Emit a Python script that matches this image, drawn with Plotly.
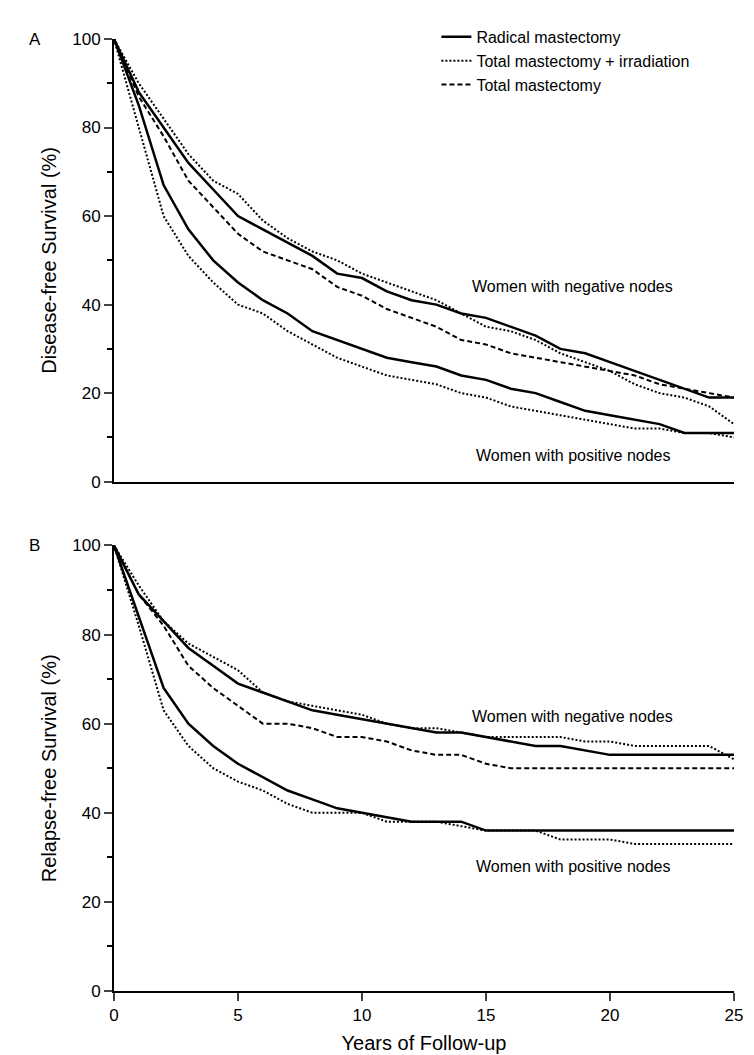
import plotly.graph_objects as go
from plotly.subplots import make_subplots

years = list(range(26))

# Panel A: disease-free survival (%)
a_neg_radical = [100, 88, 80, 72, 66, 60, 57, 54, 51, 47, 46, 43, 41, 40, 38, 37, 35, 33, 30, 29, 27, 25, 23, 21, 19, 19]
a_neg_irrad = [100, 90, 82, 74, 68, 65, 59, 55, 52, 50, 47, 45, 43, 41, 38, 35, 34, 32, 29, 27, 25, 22, 20, 19, 17, 13]
a_neg_total = [100, 87, 78, 68, 62, 56, 52, 50, 48, 44, 42, 39, 37, 35, 32, 31, 29, 28, 27, 26, 25, 24, 22, 21, 20, 19]
a_pos_radical = [100, 85, 67, 57, 50, 45, 41, 38, 34, 32, 30, 28, 27, 26, 24, 23, 21, 20, 18, 16, 15, 14, 13, 11, 11, 11]
a_pos_irrad = [100, 80, 60, 51, 45, 40, 38, 34, 31, 28, 26, 24, 23, 22, 20, 19, 17, 16, 15, 14, 13, 12, 12, 11, 11, 10]

# Panel B: relapse-free survival (%)
b_neg_radical = [100, 89, 83, 77, 73, 69, 67, 65, 63, 62, 61, 60, 59, 58, 58, 57, 56, 55, 55, 54, 53, 53, 53, 53, 53, 53]
b_neg_irrad = [100, 91, 83, 78, 75, 72, 67, 65, 64, 63, 62, 60, 59, 59, 58, 57, 57, 57, 57, 56, 56, 55, 55, 55, 55, 52]
b_neg_total = [100, 89, 82, 73, 68, 64, 60, 60, 59, 57, 57, 56, 54, 53, 53, 51, 50, 50, 50, 50, 50, 50, 50, 50, 50, 50]
b_pos_radical = [100, 84, 68, 60, 55, 51, 48, 45, 43, 41, 40, 39, 38, 38, 38, 36, 36, 36, 36, 36, 36, 36, 36, 36, 36, 36]
b_pos_irrad = [100, 82, 63, 55, 50, 47, 45, 42, 40, 40, 40, 38, 38, 38, 37, 36, 36, 36, 34, 34, 34, 33, 33, 33, 33, 33]

solid = dict(color='black', width=2.5, dash='solid')
dotted = dict(color='black', width=2, dash='2px,2px')
dashed = dict(color='black', width=2, dash='5px,3px')

FONT = 'Liberation Sans, Arial'

fig = make_subplots(rows=2, cols=1, vertical_spacing=0.067)

series = [
    (1, a_neg_radical, solid, 'Radical mastectomy', True),
    (1, a_neg_irrad, dotted, 'Total mastectomy + irradiation', True),
    (1, a_neg_total, dashed, 'Total mastectomy', True),
    (1, a_pos_radical, solid, '', False),
    (1, a_pos_irrad, dotted, '', False),
    (2, b_neg_radical, solid, '', False),
    (2, b_neg_irrad, dotted, '', False),
    (2, b_neg_total, dashed, '', False),
    (2, b_pos_radical, solid, '', False),
    (2, b_pos_irrad, dotted, '', False),
]
for row, ys, line, name, show in series:
    fig.add_trace(go.Scatter(x=years, y=ys, mode='lines', line=line, name=name,
                             showlegend=show), row=row, col=1)

axfont = dict(family=FONT, size=17, color='black')
titlefont = dict(family=FONT, size=20, color='black')
for r in (1, 2):
    fig.update_yaxes(range=[0, 100], tickvals=[0, 20, 40, 60, 80, 100], ticks='outside',
                     ticklen=8, tickwidth=2, showline=True, linecolor='black', linewidth=2,
                     showgrid=False, zeroline=False, tickfont=axfont,
                     minor=dict(tickvals=[10, 30, 50, 70, 90], ticks='outside', ticklen=5,
                                tickwidth=2, tickcolor='black'),
                     row=r, col=1)
fig.update_xaxes(range=[0, 25], showline=True, linecolor='black', linewidth=2,
                 showgrid=False, zeroline=False, showticklabels=False, ticks='', row=1, col=1)
fig.update_xaxes(range=[0, 25], tickvals=[0, 5, 10, 15, 20, 25], ticks='outside', ticklen=8,
                 tickwidth=2, showline=True, linecolor='black', linewidth=2, showgrid=False,
                 zeroline=False, tickfont=axfont, row=2, col=1,
                 title=dict(text='Years of Follow-up', font=titlefont, standoff=12))
fig.update_yaxes(title=dict(text='Disease-free Survival (%)', font=titlefont, standoff=10), row=1, col=1)
fig.update_yaxes(title=dict(text='Relapse-free Survival (%)', font=titlefont, standoff=10), row=2, col=1)

lab = dict(family=FONT, size=16, color='black')
fig.add_annotation(x=18.5, y=44, xref='x', yref='y', text='Women with negative nodes', showarrow=False, font=lab)
fig.add_annotation(x=18.5, y=6, xref='x', yref='y', text='Women with positive nodes', showarrow=False, font=lab)
fig.add_annotation(x=18.5, y=61.5, xref='x2', yref='y2', text='Women with negative nodes', showarrow=False, font=lab)
fig.add_annotation(x=18.5, y=28, xref='x2', yref='y2', text='Women with positive nodes', showarrow=False, font=lab)
fig.add_annotation(x=-0.14, y=1, xref='paper', yref='paper', text='A', showarrow=False,
                   font=dict(family=FONT, size=17), xanchor='left', yanchor='middle')
fig.add_annotation(x=-0.14, y=0.468, xref='paper', yref='paper', text='B', showarrow=False,
                   font=dict(family=FONT, size=17), xanchor='left', yanchor='middle')

fig.update_layout(
    width=754, height=1055,
    margin=dict(l=106, r=28, t=23, b=70),
    plot_bgcolor='white', paper_bgcolor='white',
    font=dict(family=FONT, color='black'),
    showlegend=True,
    legend=dict(x=0.52, y=1.02, xanchor='left', yanchor='top', bgcolor='rgba(0,0,0,0)',
                font=dict(family=FONT, size=16), tracegroupgap=0, itemwidth=30),
)
fig.update_yaxes(domain=[0.535, 1], row=1, col=1)
fig.update_yaxes(domain=[0, 0.468], row=2, col=1)

fig.write_html("out.html")
